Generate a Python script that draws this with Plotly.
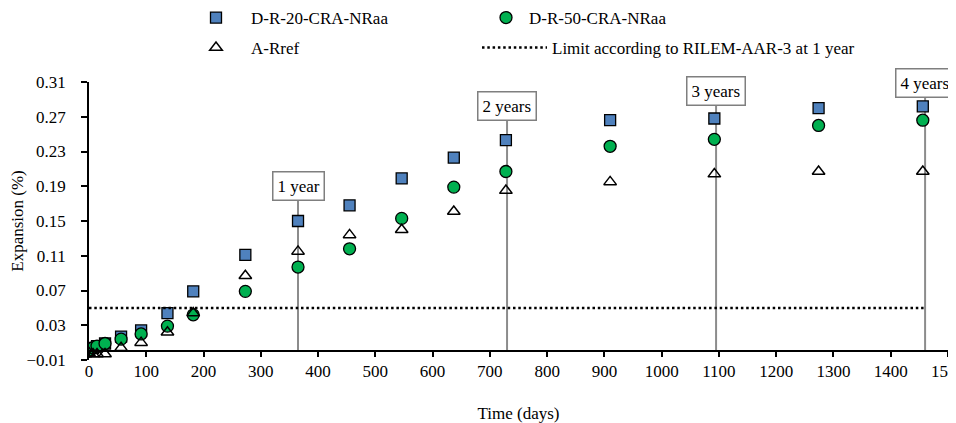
import plotly.graph_objects as go

# ---- data ----
days = [0, 7, 14, 28, 56, 91, 137, 182, 273, 365, 455, 546, 637, 728, 910, 1092, 1274, 1456]
dr20 = [0.002, 0.004, 0.006, 0.009, 0.017, 0.024, 0.044, 0.069, 0.111, 0.150, 0.168, 0.199, 0.223,
        0.243, 0.266, 0.268, 0.280, 0.282]
dr50 = [0.000, 0.004, 0.006, 0.009, 0.014, 0.020, 0.029, 0.042, 0.069, 0.097, 0.118, 0.153, 0.189,
        0.207, 0.236, 0.244, 0.260, 0.266]
aref = [-0.002, -0.003, -0.003, -0.003, 0.004, 0.010, 0.022, 0.044, 0.087, 0.115, 0.134, 0.140, 0.161,
        0.185, 0.195, 0.204, 0.207, 0.207]
limit_days = [0, 1460]
limit_value = [0.05, 0.05]
milestone_days = [365, 730, 1095, 1460]
milestone_labels = ["1 year", "2 years", "3 years", "4 years"]
y_ticks = [-0.01, 0.03, 0.07, 0.11, 0.15, 0.19, 0.23, 0.27, 0.31]
x_ticks = list(range(0, 1501, 100))

FONT = "Liberation Serif"
FS = 17
W, H = 948, 415  # page body adds an 8px offset
fig = go.Figure()

fig.add_trace(go.Scatter(x=days, y=dr20, mode="markers", name="D-R-20-CRA-NRaa",
                         marker=dict(symbol="square", size=11, color="#4F81BD",
                                     line=dict(color="black", width=1.3)),
                         legend="legend"))
fig.add_trace(go.Scatter(x=days, y=dr50, mode="markers", name="D-R-50-CRA-NRaa",
                         marker=dict(symbol="circle", size=12, color="#00B050",
                                     line=dict(color="black", width=1.3)),
                         legend="legend2"))
fig.add_trace(go.Scatter(x=days, y=aref, mode="markers", name="A-Rref",
                         marker=dict(symbol="triangle-up-open", size=11, color="black",
                                     line=dict(color="black", width=1.5)),
                         legend="legend3"))
fig.add_trace(go.Scatter(x=limit_days, y=limit_value, mode="lines",
                         name="Limit according to RILEM-AAR-3 at 1 year",
                         line=dict(color="black", width=2.5, dash="2.5px,2.8px"),
                         legend="legend4"))

# milestone lines + boxes
box_y = [0.19, 0.282, 0.2995, 0.309]
line_top = [0.175, 0.268, 0.286, 0.295]
for d, lab, by, lt in zip(milestone_days, milestone_labels, box_y, line_top):
    fig.add_shape(type="line", x0=d, x1=d, y0=0, y1=lt, xref="x", yref="y",
                  line=dict(color="#8C8C8C", width=2), layer="below")
    fig.add_annotation(x=d, y=by, xref="x", yref="y", text=lab, showarrow=False,
                       font=dict(family=FONT, size=FS, color="black"),
                       bgcolor="white", bordercolor="#7F7F7F", borderwidth=1.5, borderpad=4)


def leg(xpx, ypx, iw):
    return dict(orientation="h", xref="container", yref="container",
                x=xpx / W, y=1 - ypx / H, xanchor="left", yanchor="middle",
                itemwidth=iw,
                font=dict(family=FONT, size=FS), bgcolor="rgba(0,0,0,0)")


fig.update_layout(
    width=W, height=H,
    margin=dict(l=81, r=8, t=74, b=63, autoexpand=False),
    paper_bgcolor="white", plot_bgcolor="white",
    font=dict(family=FONT, size=FS, color="black"),
    showlegend=True,
    legend=leg(173, 10, 60),
    legend2=leg(475, 10, 36),
    legend3=leg(173, 40, 60),
    legend4=leg(469, 40, 65),
    xaxis=dict(range=[0, 1500], tickvals=x_ticks, ticks="outside", ticklen=5, tickwidth=1.5,
               tickcolor="black", showline=True, linecolor="black", linewidth=1.5,
               showgrid=False, zeroline=False, ticklabeloverflow="allow",
               anchor="free", position=0.03125, ticklabelstandoff=0,
               title=dict(text="Time (days)", font=dict(family=FONT, size=FS), standoff=26),
               tickfont=dict(family=FONT, size=FS)),
    yaxis=dict(range=[-0.01, 0.31], tickvals=y_ticks, tickformat=".2f", ticks="outside",
               ticklen=6, tickwidth=1.5, tickcolor="black", showline=True, linecolor="black",
               linewidth=1.5, showgrid=False, zeroline=False, ticklabelstandoff=12,
               title=dict(text="Expansion (%)", font=dict(family=FONT, size=FS), standoff=6),
               tickfont=dict(family=FONT, size=FS)),
)

fig.write_html("out.html")
